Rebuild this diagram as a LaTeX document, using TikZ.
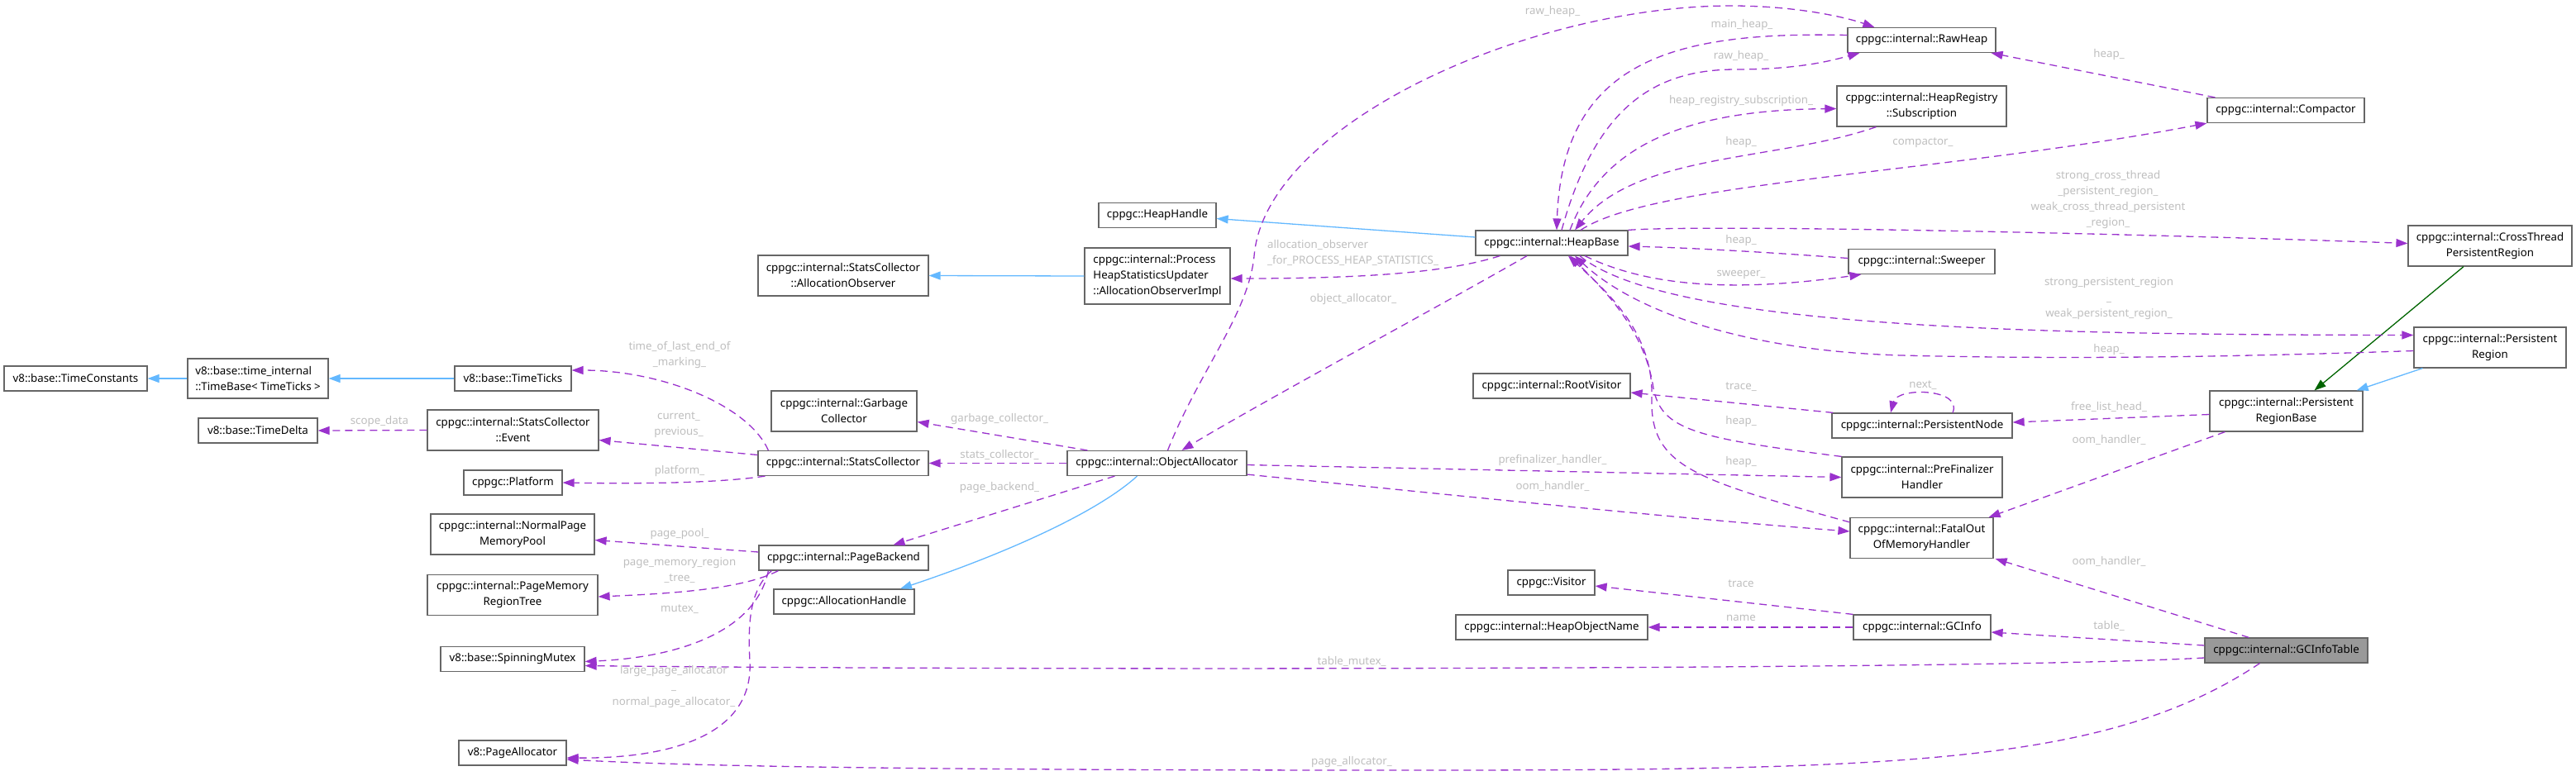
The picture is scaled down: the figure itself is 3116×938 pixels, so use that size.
\documentclass[tikz,border=0pt]{standalone}
\usepackage{fontspec}
\setmainfont{Noto Sans}
\usetikzlibrary{arrows.meta}
\definecolor{usecol}{HTML}{9A32CD}
\definecolor{inhcol}{HTML}{63B8FF}
\definecolor{protcol}{HTML}{006400}
\definecolor{nodeborder}{HTML}{666666}
\definecolor{labcol}{HTML}{BEBEBE}
\definecolor{focusfill}{HTML}{999999}
\tikzset{
  cls/.style={draw=nodeborder, line width=1.2pt, fill=white, inner sep=0pt,
    font=\fontsize{13.3}{19}\selectfont, align=center},
  lab/.style={text=labcol, inner sep=0pt, font=\fontsize{13.3}{19}\selectfont, align=center},
  use/.style={draw=usecol, line width=1.3pt, dash pattern=on 9pt off 6pt,
    -{Triangle[length=14pt,width=10pt]}},
  inh/.style={draw=inhcol, line width=1.3pt, -{Triangle[length=14pt,width=10pt]}},
  prot/.style={draw=protcol, line width=1.3pt, -{Triangle[length=14pt,width=10pt]}}
}
\begin{document}
\begin{tikzpicture}[x=1pt,y=-1pt]
\useasboundingbox (0,0) rectangle (3116,938);
% nodes
\node[cls, minimum width=173pt, minimum height=30pt] (tc) at (91.5,458) {v8::base::TimeConstants};
\node[cls, align=left, minimum width=170pt, minimum height=48pt] (tb) at (312,458) {v8::base::time\_internal\\::TimeBase< TimeTicks >};
\node[cls, minimum width=141pt, minimum height=30pt] (tt) at (620.5,458) {v8::base::TimeTicks};
\node[cls, minimum width=144pt, minimum height=30pt] (td) at (312,521) {v8::base::TimeDelta};
\node[cls, minimum width=207pt, minimum height=49pt] (ev) at (620.5,520.5) {cppgc::internal::StatsCollector\\::Event};
\node[cls, minimum width=119pt, minimum height=30pt] (pf) at (620.5,584) {cppgc::Platform};
\node[cls, minimum width=198pt, minimum height=49pt] (np) at (620,646.5) {cppgc::internal::NormalPage\\MemoryPool};
\node[cls, minimum width=206pt, minimum height=49pt] (pm) at (620,720) {cppgc::internal::PageMemory\\RegionTree};
\node[cls, minimum width=174pt, minimum height=30pt] (sm) at (620,797.5) {v8::base::SpinningMutex};
\node[cls, minimum width=130pt, minimum height=30pt] (pa) at (620,911) {v8::PageAllocator};
\node[cls, minimum width=206pt, minimum height=49pt] (ao) at (1020,333.5) {cppgc::internal::StatsCollector\\::AllocationObserver};
\node[cls, minimum width=176pt, minimum height=49pt] (gc) at (1021,497.5) {cppgc::internal::Garbage\\Collector};
\node[cls, minimum width=206pt, minimum height=30pt] (sc) at (1020,560.5) {cppgc::internal::StatsCollector};
\node[cls, minimum width=205pt, minimum height=30pt] (pb) at (1020.5,675) {cppgc::internal::PageBackend};
\node[cls, minimum width=170pt, minimum height=30pt] (ah) at (1021,728) {cppgc::AllocationHandle};
\node[cls, minimum width=142pt, minimum height=30pt] (hh) at (1400,260.5) {cppgc::HeapHandle};
\node[cls, align=left, minimum width=176pt, minimum height=68pt] (ps) at (1400,334) {cppgc::internal::Process\\HeapStatisticsUpdater\\::AllocationObserverImpl};
\node[cls, minimum width=217pt, minimum height=30pt] (oa) at (1399.5,560.5) {cppgc::internal::ObjectAllocator};
\node[cls, minimum width=184pt, minimum height=30pt] (hb) at (1877,294) {cppgc::internal::HeapBase};
\node[cls, minimum width=190pt, minimum height=30pt] (rv) at (1877,467) {cppgc::internal::RootVisitor};
\node[cls, minimum width=105pt, minimum height=30pt] (vi) at (1876.5,705) {cppgc::Visitor};
\node[cls, minimum width=232pt, minimum height=30pt] (hon) at (1877,759) {cppgc::internal::HeapObjectName};
\node[cls, minimum width=179pt, minimum height=30pt] (rh) at (2324.5,48.5) {cppgc::internal::RawHeap};
\node[cls, minimum width=205pt, minimum height=49pt] (hrs) at (2324.5,128.5) {cppgc::internal::HeapRegistry\\::Subscription};
\node[cls, minimum width=177pt, minimum height=30pt] (sw) at (2324.5,316.5) {cppgc::internal::Sweeper};
\node[cls, minimum width=218pt, minimum height=30pt] (pn) at (2325,515) {cppgc::internal::PersistentNode};
\node[cls, minimum width=194pt, minimum height=49pt] (pfh) at (2325,577.5) {cppgc::internal::PreFinalizer\\Handler};
\node[cls, minimum width=173pt, minimum height=49pt] (oom) at (2324.5,651) {cppgc::internal::FatalOut\\OfMemoryHandler};
\node[cls, minimum width=166pt, minimum height=30pt] (gci) at (2325,759) {cppgc::internal::GCInfo};
\node[cls, minimum width=190pt, minimum height=30pt] (cp) at (2765,133.5) {cppgc::internal::Compactor};
\node[cls, minimum width=198pt, minimum height=49pt] (ct) at (3012,297.5) {cppgc::internal::CrossThread\\PersistentRegion};
\node[cls, minimum width=184pt, minimum height=49pt] (pr) at (3012,420.5) {cppgc::internal::Persistent\\Region};
\node[cls, minimum width=185pt, minimum height=49pt] (prb) at (2765.5,497.5) {cppgc::internal::Persistent\\RegionBase};
\node[cls, fill=focusfill, minimum width=197pt, minimum height=30pt] (git) at (2765.5,787) {cppgc::internal::GCInfoTable};
% inheritance
\draw[inh] (tb.west) -- (tc.east);
\draw[inh] (tt.west) -- (tb.east);
\draw[inh] (ps.west) -- (ao.east);
\draw[inh] ([yshift=7pt]hb.west) -- ([yshift=-4pt]hh.east);
\draw[inh] ([xshift=-24pt]oa.south) .. controls (1325,622) and (1210,672) .. ([xshift=68pt]ah.north);
\draw[inh] ([xshift=11pt]pr.south west) -- ([xshift=-8pt]prb.north east);
\draw[prot] ([xshift=-32pt]ct.south) -- ([xshift=34pt]prb.north);
% usage
\draw[use] (ev.west) -- (td.east);
\draw[use] ([xshift=13pt]sc.north west) .. controls (905,490) and (800,448) .. ([yshift=10pt]tt.east);
\draw[use] ([yshift=10pt]sc.west) -- ([yshift=-12pt]ev.east);
\draw[use] ([xshift=9pt]sc.south west) .. controls (880,583) and (800,586) .. (pf.east);
\draw[use] ([xshift=25pt]oa.north west) -- ([yshift=-13pt]gc.east);
\draw[use] (oa.west) -- (sc.east);
\draw[use] ([xshift=58pt]oa.south west) -- ([xshift=60pt]pb.north);
\draw[use] ([yshift=7pt]pb.west) -- ([yshift=-7pt]np.east);
\draw[use] ([xshift=24pt]pb.south west) .. controls (900,712) and (820,718) .. ([yshift=-2pt]pm.east);
\draw[use] ([xshift=12pt]pb.south west) .. controls (915,760) and (830,795) .. ([yshift=-3pt]sm.east);
\draw[use] ([xshift=16pt]pb.south west) .. controls (905,715) and (905,760) .. (907,800) .. controls (912,890) and (810,918) .. ([yshift=-6pt]pa.east);
\draw[use] ([yshift=-9pt]git.west) .. controls (2400,811) and (1200,811) .. ([yshift=-8pt]sm.east);
\draw[use] ([xshift=-32pt]git.south) .. controls (2550,925) and (2300,932) .. (1700,932) .. controls (1000,932) and (800,925) .. ([yshift=-8pt]pa.east);
\draw[use] ([xshift=13pt]oa.north) .. controls (1450,450) and (1510,380) .. (1517,310) .. controls (1530,150) and (1850,7) .. (2094,7) .. controls (2170,7) and (2230,20) .. ([xshift=33pt]rh.north west);
\draw[use] ([xshift=-30pt]hb.south) .. controls (1760,360) and (1520,490) .. ([xshift=30pt]oa.north);
\draw[use] ([xshift=30pt]hb.south west) .. controls (1750,330) and (1650,337) .. ([yshift=-3pt]ps.east);
\draw[use] ([yshift=6pt]rh.west) .. controls (2030,38) and (1890,70) .. ([xshift=6pt]hb.north);
\draw[use] ([xshift=12pt]hb.north) .. controls (1930,130) and (2000,84) .. (2100,84) .. controls (2180,84) and (2220,72) .. ([xshift=15pt]rh.south west);
\draw[use] ([xshift=22pt]hb.north) .. controls (1940,170) and (2050,133) .. ([yshift=-3pt]hrs.west);
\draw[use] ([xshift=48pt]hrs.south west) .. controls (2150,195) and (1980,185) .. ([xshift=28pt]hb.north);
\draw[use] ([xshift=35pt]hb.north) .. controls (2000,220) and (2350,210) .. (cp.south west);
\draw[use] ([xshift=10pt]cp.north west) -- ([xshift=-6pt]rh.south east);
\draw[use] (hb.north east) .. controls (2050,272) and (2500,280) .. ([yshift=3pt]ct.west);
\draw[use] ([yshift=4pt]sw.west) .. controls (2150,306) and (2050,300) .. ([yshift=-4pt]hb.east);
\draw[use] ([xshift=40pt]hb.south) .. controls (1990,345) and (2090,355) .. ([xshift=16pt]sw.south west);
\draw[use] ([xshift=34pt]hb.south) .. controls (2020,400) and (2500,405) .. ([yshift=15pt]pr.west);
\draw[use] ([yshift=-4pt]pr.west) .. controls (2700,432) and (2500,435) .. (2300,430) .. controls (2120,425) and (1980,380) .. ([xshift=28pt]hb.south);
\draw[use] ([xshift=2pt]pn.north west) -- ([yshift=-8pt]rv.east);
\draw[use] ([xshift=37pt]pn.north) .. controls (2375,470) and (2295,468) .. ([xshift=-38pt]pn.north);
\draw[use] (pfh.north west) .. controls (2050,530) and (2010,520) .. (2000,470) .. controls (1990,400) and (1940,350) .. ([xshift=22pt]hb.south);
\draw[use] ([yshift=-6pt]oom.north west) .. controls (2050,580) and (1995,565) .. (1998,480) .. controls (2000,400) and (1940,350) .. ([xshift=20pt]hb.south);
\draw[use] ([yshift=-2pt]oa.east) -- (pfh.west);
\draw[use] ([yshift=2pt]oa.south east) .. controls (1700,593) and (2000,625) .. ([yshift=8pt]oom.west);
\draw[use] ([yshift=-4pt]prb.west) -- ([yshift=4pt]pn.east);
\draw[use] ([xshift=19pt]prb.south west) -- ([xshift=-6pt]oom.north east);
\draw[use] ([xshift=54pt]git.north west) -- ([xshift=2pt]oom.south east);
\draw[use] ([yshift=6pt]git.west) -- ([yshift=-6pt]gci.east);
\draw[use] (gci.north west) -- ([yshift=-4pt]vi.east);
\draw[use] (gci.west) -- (hon.east);
% labels
\node[lab] (l1) at (459,510) {scope\_data};
\node[lab] (l2) at (822,429) {time\_of\_last\_end\_of\\\_marking\_};
\node[lab] (l3) at (821,514) {current\_\\previous\_};
\node[lab] (l4) at (822,570) {platform\_};
\node[lab] (l5) at (822,646) {page\_pool\_};
\node[lab] (l6) at (822,690) {page\_memory\_region\\\_tree\_};
\node[lab] (l7) at (822,737) {mutex\_};
\node[lab] (l8) at (815,831) {large\_page\_allocator\\\_\\normal\_page\_allocator\_};
\node[lab] (l9) at (1209,507) {garbage\_collector\_};
\node[lab] (l10) at (1209,550) {stats\_collector\_};
\node[lab] (l11) at (1209,590) {page\_backend\_};
\node[lab] (l12) at (1635,800) {table\_mutex\_};
\node[lab] (l13) at (1635,922) {page\_allocator\_};
\node[lab, align=left, anchor=west] (l14) at (1533,306) {allocation\_observer\\\_for\_PROCESS\_HEAP\_STATISTICS\_};
\node[lab] (l15) at (1637,362) {object\_allocator\_};
\node[lab] (l16) at (1878,14) {raw\_heap\_};
\node[lab] (l17) at (2107,30) {main\_heap\_};
\node[lab] (l18) at (2106,68) {raw\_heap\_};
\node[lab] (l19) at (2106,122) {heap\_registry\_subscription\_};
\node[lab] (l20) at (2106,172) {heap\_};
\node[lab] (l21) at (2326,173) {compactor\_};
\node[lab] (l22) at (2551,66) {heap\_};
\node[lab] (l23) at (2550,242) {strong\_cross\_thread\\\_persistent\_region\_\\weak\_cross\_thread\_persistent\\\_region\_};
\node[lab] (l24) at (2106,291) {heap\_};
\node[lab] (l25) at (2106,332) {sweeper\_};
\node[lab] (l26) at (2551,361) {strong\_persistent\_region\\\_\\weak\_persistent\_region\_};
\node[lab] (l27) at (2551,423) {heap\_};
\node[lab] (l28) at (2326,466) {next\_};
\node[lab] (l29) at (2106,468) {trace\_};
\node[lab] (l30) at (2106,510) {heap\_};
\node[lab] (l31) at (2106,559) {heap\_};
\node[lab] (l32) at (1878,557) {prefinalizer\_handler\_};
\node[lab] (l33) at (1878,588) {oom\_handler\_};
\node[lab] (l34) at (2551,492) {free\_list\_head\_};
\node[lab] (l35) at (2551,532) {oom\_handler\_};
\node[lab] (l36) at (2551,679) {oom\_handler\_};
\node[lab] (l37) at (2551,757) {table\_};
\node[lab] (l38) at (2106,706) {trace};
\node[lab] (l39) at (2106,748) {name};
\end{tikzpicture}
\end{document}
